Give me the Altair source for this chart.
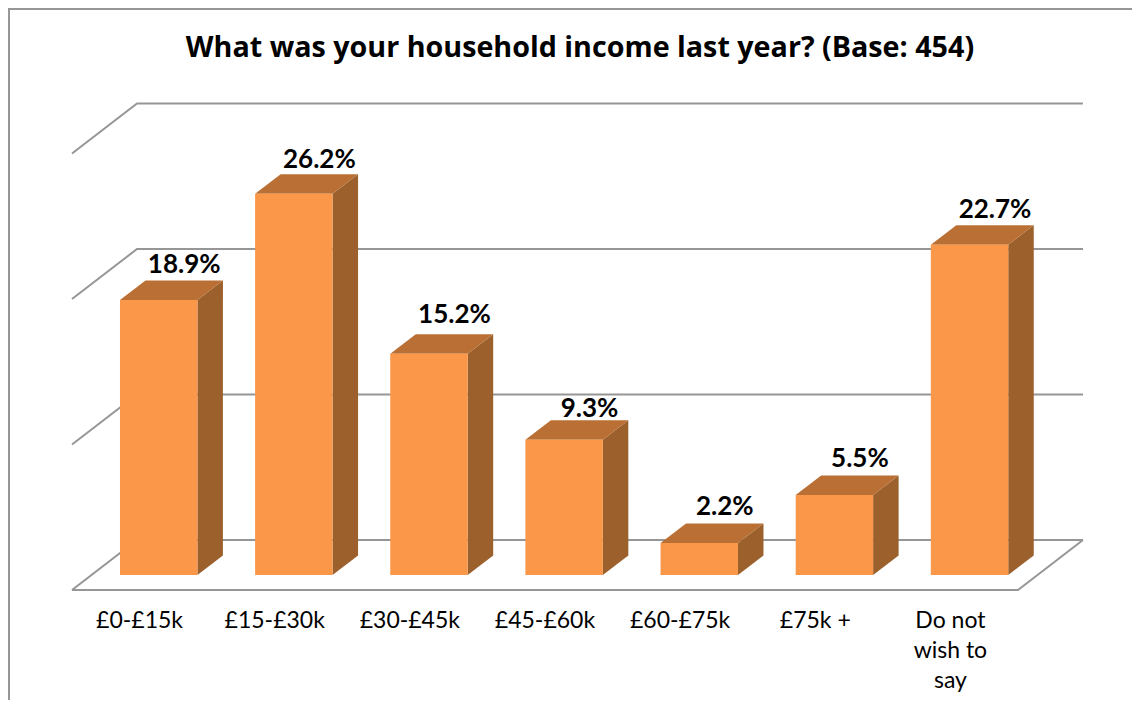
import altair as alt
import pandas as pd

TITLE = "What was your household income last year? (Base: 454)"
categories = ["£0-£15k", "£15-£30k", "£30-£45k", "£45-£60k", "£60-£75k", "£75k +", "Do not wish to say"]
label_lines = [["£0-£15k"], ["£15-£30k"], ["£30-£45k"], ["£45-£60k"], ["£60-£75k"], ["£75k +"], ["Do not", "wish to", "say"]]
values = [18.9, 26.2, 15.2, 9.3, 2.2, 5.5, 22.7]
gridlines = [0, 10, 20, 30]

FONT = "Lato"
TITLE_FONT = "Open Sans"
FRONT, TOP, SIDE, LINE = "#FA9748", "#BA7035", "#9C602C", "#969696"

# layout of the pseudo-3D box: 1 x-unit = one category, y-units = percent
PX_X, PX_Y = 135.14, 14.55
W, H = 1124, 692
X0_PAGE, Y0_PAGE = 72, 575          # where u=0 / v=0 fall on the page
u_of = lambda px: (px - X0_PAGE) / PX_X
BAR_L, BAR_W = 0.355, 0.573
DX, DY = 25.5 / PX_X, 19.5 / PX_Y
FLOOR_FRONT, FLOOR_BACK = -15 / PX_Y, 35 / PX_Y
WALL_DX, WALL_R = 65 / PX_X, 7.0
LABEL_GAP = [8, 6, 11, 3, 8, 8, 7]   # px between a bar's top and its label

xs = alt.Scale(domain=[u_of(8), u_of(8 + W)], nice=False, zero=False)
ys = alt.Scale(domain=[(Y0_PAGE - 8 - H) / PX_Y, (Y0_PAGE - 8) / PX_Y], nice=False, zero=False)
X = lambda f="u": alt.X(f"{f}:Q", scale=xs, axis=None)
Y = lambda f="v": alt.Y(f"{f}:Q", scale=ys, axis=None, stack=None)

# grid and floor
rows = []
for g in gridlines:
    rows += [dict(k=f"g{g}", u=0, v=FLOOR_FRONT + g),
             dict(k=f"g{g}", u=WALL_DX, v=FLOOR_BACK + g),
             dict(k=f"g{g}", u=WALL_R + WALL_DX, v=FLOOR_BACK + g)]
rows += [dict(k="front", u=0, v=FLOOR_FRONT),
         dict(k="front", u=WALL_R, v=FLOOR_FRONT),
         dict(k="front", u=WALL_R + WALL_DX, v=FLOOR_BACK)]
grid = alt.Chart(pd.DataFrame(rows)).mark_line(color=LINE, strokeWidth=2, strokeJoin="miter").encode(
    x=X(), y=Y(), detail="k:N")

# bar faces
front, side, top, labels = [], [], [], []
for i, (c, val) in enumerate(zip(categories, values)):
    x0, x1 = i + BAR_L, i + BAR_L + BAR_W
    front.append(dict(c=c, u=x0, u2=x1, v=0, v2=val))
    side += [dict(c=c, u=x1, v=0, v2=val), dict(c=c, u=x1 + DX, v=DY, v2=val + DY)]
    top += [dict(c=c, u=x0, v=val, v2=val),
            dict(c=c, u=x0 + DX, v=val, v2=val + DY),
            dict(c=c, u=x1, v=val, v2=val + DY),
            dict(c=c, u=x1 + DX, v=val + DY, v2=val + DY)]
    labels.append(dict(u=(x0 + x1) / 2 + DX, v=val + DY + LABEL_GAP[i] / PX_Y, t=f"{val:.1f}%"))

front_m = alt.Chart(pd.DataFrame(front)).mark_rect(color=FRONT).encode(
    x=X(), x2="u2:Q", y=Y(), y2="v2:Q")
side_m = alt.Chart(pd.DataFrame(side)).mark_area(color=SIDE, opacity=1).encode(
    x=X(), y=Y(), y2="v2:Q", detail="c:N")
top_m = alt.Chart(pd.DataFrame(top)).mark_area(color=TOP, opacity=1).encode(
    x=X(), y=Y(), y2="v2:Q", detail="c:N")
val_m = alt.Chart(pd.DataFrame(labels)).mark_text(
    font=FONT, fontWeight="bold", fontSize=26, color="#000000", baseline="alphabetic"
).encode(x=X(), y=Y(), text="t:N")

# category labels
cat_rows = []
for i, lines in enumerate(label_lines):
    for j, t in enumerate(lines):
        cat_rows.append(dict(u=i + 0.5, v=(Y0_PAGE - 628 - 30 * j) / PX_Y, t=t, key=f"{i}-{j}"))
cat_m = alt.Chart(pd.DataFrame(cat_rows)).mark_text(
    font=FONT, fontSize=23, color="#000000", baseline="alphabetic"
).encode(x=X(), y=Y(), text="t:N", detail="key:N")

# chart frame: only left and top edges fall inside the picture
frame_l = alt.Chart(pd.DataFrame({"a": [0]})).mark_rule(color=LINE, strokeWidth=2).encode(
    x=alt.value(1), y=alt.value(0), y2=alt.value(H))
frame_t = alt.Chart(pd.DataFrame({"a": [0]})).mark_rule(color=LINE, strokeWidth=2).encode(
    y=alt.value(1), x=alt.value(0), x2=alt.value(W))

chart = alt.layer(frame_l, frame_t, grid, side_m, top_m, front_m, val_m, cat_m).properties(
    width=W, height=H, padding=0, autosize=alt.AutoSizeParams(type="none"),
    title=alt.TitleParams(TITLE, font=TITLE_FONT, fontSize=28.7, fontWeight="bold", color="#000000",
                          anchor="middle", frame="group", offset=0, dy=79, dx=10, baseline="alphabetic"),
).configure_view(stroke=None)

chart.save("out.html", embed_options={"renderer": "svg", "actions": False})
